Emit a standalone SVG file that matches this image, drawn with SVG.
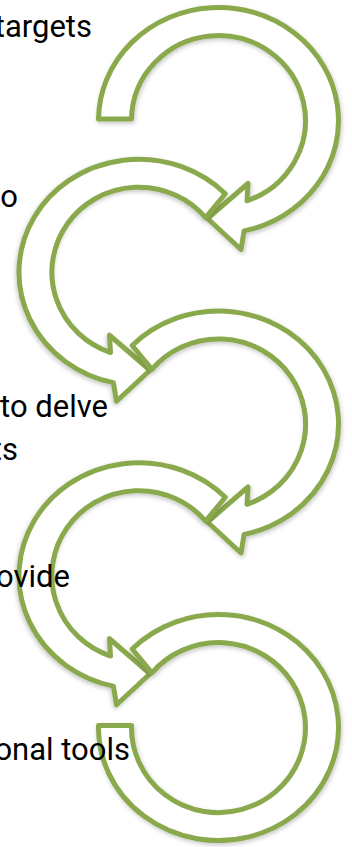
<svg xmlns="http://www.w3.org/2000/svg" xmlns:xlink="http://www.w3.org/1999/xlink" width="352" height="847" viewBox="0 0 352 847">
  <style>
    .arrow { fill: #ffffff; stroke: #8AA94E; stroke-width: 5; stroke-linejoin: round; filter: url(#sh); }
    .lbl { font-family: Roboto, "Liberation Sans", sans-serif; font-size: 31px; fill: #000000; text-anchor: end; }
  </style>
  <defs>
    <filter id="sh" x="-20%" y="-20%" width="140%" height="140%">
      <feDropShadow dx="1" dy="2" stdDeviation="2" flood-color="#000000" flood-opacity="0.22"/>
    </filter>
    <path id="arrowR" d="M -86.3 -78.5 A 120 113 0 1 1 25.6 110.4 L 22.5 129 L -11 98 L 29.5 63 L 28.5 80.3 A 87 85 0 1 0 -66.6 -54.6 Z"/>
  </defs>
  <g id="arrow1" transform="translate(218.5,120.5)">
    <path class="arrow" d="M -120 -1.5 A 120 113 0 1 1 25.6 110.4 L 22.5 129 L -11 98 L 29.5 63 L 28.5 80.3 A 87 85 0 1 0 -87 -1.5 Z"/>
  </g>
  <g id="arrow2" transform="translate(139,272.25) scale(-1,1)">
    <use xlink:href="#arrowR" class="arrow"/>
  </g>
  <g id="arrow3" transform="translate(218.5,424)">
    <use xlink:href="#arrowR" class="arrow"/>
  </g>
  <g id="arrow4" transform="translate(139,575.75) scale(-1,1)">
    <use xlink:href="#arrowR" class="arrow"/>
  </g>
  <g id="arrow5" transform="translate(218.5,727.5)">
    <path class="arrow" d="M -86.3 -78.5 A 120 113 0 1 1 -120 -2 L -87 -2 A 87 85 0 1 0 -66.6 -54.6 Z"/>
  </g>
  <g id="texts">
    <text class="lbl" x="92" y="36.5">targets</text>
    <text class="lbl" x="18" y="207">to</text>
    <text class="lbl" x="108" y="417">to delve</text>
    <text class="lbl" x="18" y="460">ts</text>
    <text class="lbl" x="70" y="587">ovide</text>
    <text class="lbl" x="130" y="760">onal tools</text>
  </g>
</svg>
